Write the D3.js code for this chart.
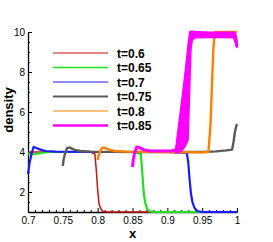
<!DOCTYPE html>
<html>
<head>
<meta charset="utf-8">
<script src="https://cdn.jsdelivr.net/npm/d3@7"></script>
<style>
  body { margin: 0; background: #fff; }
  text { font-family: "Liberation Sans", Arial, sans-serif; }
</style>
</head>
<body>
<div id="wrapper"></div>
<script>
// density profiles, values
const seriesNames = ["t=0.6", "t=0.65", "t=0.7", "t=0.75", "t=0.8", "t=0.85"];

const xRed = [0.70, 0.72, 0.75, 0.78, 0.79, 0.796, 0.798, 0.800, 0.802, 0.805, 0.808, 0.815, 0.85, 0.9, 1.0];
const dRed = [4.0, 4.0, 4.0, 4.0, 4.0, 3.9, 3.1, 2.1, 1.4, 1.12, 1.03, 1.0, 1.0, 1.0, 1.0];

const xGreen = [0.70, 0.705, 0.71, 0.72, 0.73, 0.75, 0.8, 0.85, 0.862, 0.864, 0.866, 0.868, 0.871, 0.875, 0.88, 0.95, 1.0];
const dGreen = [3.92, 3.88, 3.9, 3.95, 4.0, 4.0, 4.0, 4.0, 3.9, 3.0, 2.0, 1.5, 1.15, 1.03, 1.0, 1.0, 1.0];

const xBlue = [0.700, 0.702, 0.705, 0.708, 0.712, 0.718, 0.725, 0.74, 0.8, 0.9, 0.928, 0.930, 0.932, 0.934, 0.936, 0.939, 0.943, 0.95, 1.0];
const dBlue = [2.9, 3.4, 3.9, 4.25, 4.2, 4.12, 4.05, 4.02, 4.0, 4.0, 3.95, 3.5, 2.6, 1.9, 1.5, 1.2, 1.05, 1.0, 1.0];

const xGray = [0.750, 0.751, 0.753, 0.756, 0.760, 0.766, 0.775, 0.79, 0.85, 0.9, 0.95, 0.97, 0.985, 0.993, 0.995, 0.997, 0.999, 1.0];
const dGray = [3.3, 3.6, 3.9, 4.2, 4.22, 4.12, 4.05, 4.02, 4.0, 4.0, 4.0, 4.03, 4.08, 4.12, 4.5, 5.0, 5.3, 5.4];

const xOrange = [0.800, 0.801, 0.803, 0.806, 0.810, 0.816, 0.825, 0.84, 0.9, 0.95, 0.959, 0.962, 0.964, 0.966, 0.968, 0.975, 1.0];
const dOrange = [3.6, 3.8, 4.0, 4.2, 4.22, 4.12, 4.05, 4.02, 4.0, 3.98, 4.0, 5.4, 7.3, 9.1, 10.0, 10.0, 10.0];

const xMagenta = [0.850, 0.851, 0.853, 0.856, 0.860, 0.866, 0.875, 0.89, 0.905, 0.912,
  0.916, 0.920, 0.924, 0.928, 0.931, 0.933, 0.936, 0.95, 0.97, 0.99, 0.997, 0.999, 1.0];
const dMagenta = [3.25, 3.6, 3.95, 4.25, 4.22, 4.12, 4.05, 4.05, 4.05, 4.1,
  4.5, 5.3, 6.3, 7.4, 8.5, 9.6, 9.85, 9.87, 9.85, 9.86, 9.8, 9.5, 9.25];

// oscillation band of t=0.85 around the reflected shock (lower / upper edge)
const xMagentaBand = [0.912, 0.914, 0.918, 0.922, 0.926, 0.930, 0.932, 0.934, 0.936, 0.940, 0.96, 0.98, 0.995, 0.998, 1.0];
const loMagenta = [3.95, 3.95, 4.0, 4.1, 4.3, 4.6, 6.8, 9.1, 9.6, 9.7, 9.72, 9.72, 9.7, 9.4, 9.2];
const hiMagenta = [4.15, 4.8, 5.9, 7.0, 8.2, 9.5, 10.02, 10.05, 10.05, 10.03, 10.0, 10.0, 10.0, 9.95, 9.6];

const xTicks = [0.7, 0.75, 0.8, 0.85, 0.9, 0.95, 1];
const xTickLabels = ["0.7", "0.75", "0.8", "0.85", "0.9", "0.95", "1"];
const yTicks = [2, 4, 6, 8, 10];

function drawChart() {
  const colors = ["#d01010", "#1ee01e", "#1a1aff", "#5c5c5c", "#ff8000", "#ff00ff"];
  const widths = [1.5, 2.2, 2.2, 2.4, 2.4, 3];
  const legendWidths = [1, 1.6, 1, 1.8, 1, 2.4];

  const series = [
    [xRed, dRed], [xGreen, dGreen], [xBlue, dBlue],
    [xGray, dGray], [xOrange, dOrange], [xMagenta, dMagenta],
  ].map(([xs, ds], i) => ({
    name: seriesNames[i],
    points: xs.map((x, j) => ({ x: x, d: ds[j] })),
  }));
  const band = xMagentaBand.map((x, j) => ({ x: x, lo: loMagenta[j], hi: hiMagenta[j] }));

  const xAccessor = (p) => p.x;
  const yAccessor = (p) => p.d;

  let dimensions = {
    width: 273,
    height: 242,
    margin: { top: 32, right: 36, bottom: 30, left: 28 },
  };
  dimensions.boundedWidth = dimensions.width - dimensions.margin.left - dimensions.margin.right;
  dimensions.boundedHeight = dimensions.height - dimensions.margin.top - dimensions.margin.bottom;

  const wrapper = d3.select("#wrapper")
    .append("svg")
    .attr("width", dimensions.width)
    .attr("height", dimensions.height);

  const bounds = wrapper.append("g")
    .attr("transform", `translate(${dimensions.margin.left},${dimensions.margin.top})`);

  const xScale = d3.scaleLinear().domain([0.7, 1.0]).range([0, dimensions.boundedWidth]);
  const yScale = d3.scaleLinear().domain([1, 10]).range([dimensions.boundedHeight, 0]);

  // minor ticks first, ticks point into the plot
  const xMinor = d3.range(70, 101).map((v) => v / 100).filter((v) => Math.round(v * 100) % 5 !== 0);
  const yMinor = d3.range(2, 21).map((v) => v / 2).filter((v) => v % 2 !== 0);

  bounds.append("g")
    .attr("transform", `translate(0,${dimensions.boundedHeight})`)
    .call(d3.axisBottom(xScale).tickValues(xMinor).tickSize(-2).tickFormat(""))
    .call((g) => g.select(".domain").remove());
  bounds.append("g")
    .call(d3.axisLeft(yScale).tickValues(yMinor).tickSize(-2).tickFormat(""))
    .call((g) => g.select(".domain").remove());

  const xAxis = bounds.append("g")
    .attr("transform", `translate(0,${dimensions.boundedHeight})`)
    .call(d3.axisBottom(xScale)
      .tickValues(xTicks)
      .tickSize(-4)
      .tickSizeOuter(0)
      .tickPadding(5)
      .tickFormat((d, i) => xTickLabels[i]));
  xAxis.selectAll("text").attr("font-size", 10).attr("font-family", "Liberation Sans, Arial, sans-serif").attr("fill", "#000");

  const yAxis = bounds.append("g")
    .call(d3.axisLeft(yScale)
      .tickValues(yTicks)
      .tickSize(-4)
      .tickSizeOuter(0)
      .tickPadding(3));
  yAxis.selectAll("text").attr("font-size", 10).attr("font-family", "Liberation Sans, Arial, sans-serif").attr("fill", "#000");

  bounds.selectAll(".domain").attr("stroke-width", 1.3);

  // curves
  const lineGenerator = d3.line()
    .x((p) => xScale(xAccessor(p)))
    .y((p) => yScale(yAccessor(p)));

  bounds.selectAll(".curve")
    .data(series)
    .join("path")
    .attr("class", "curve")
    .attr("d", (s) => lineGenerator(s.points))
    .attr("fill", "none")
    .attr("stroke", (s, i) => colors[i])
    .attr("stroke-width", (s, i) => widths[i])
    .attr("stroke-linejoin", "round");

  // noisy band of the last profile
  const areaGenerator = d3.area()
    .x((p) => xScale(p.x))
    .y0((p) => yScale(p.lo))
    .y1((p) => yScale(p.hi));
  bounds.append("path")
    .attr("d", areaGenerator(band))
    .attr("fill", colors[5])
    .attr("stroke", colors[5])
    .attr("stroke-width", 1.2);

  // legend
  const legend = wrapper.append("g");
  const rows = legend.selectAll("g")
    .data(series)
    .join("g")
    .attr("transform", (s, i) => `translate(53,${53 + i * 14.5})`);
  rows.append("line")
    .attr("x1", 0).attr("x2", 55)
    .attr("stroke", (s, i) => colors[i])
    .attr("stroke-width", (s, i) => legendWidths[i]);
  rows.append("text")
    .attr("x", 64).attr("y", 4.5)
    .attr("font-size", 12).attr("font-weight", "bold")
    .text((s) => s.name);

  // axis titles
  wrapper.append("text")
    .attr("x", dimensions.margin.left + xScale(0.85))
    .attr("y", 238)
    .attr("text-anchor", "middle")
    .attr("font-size", 13).attr("font-weight", "bold")
    .text("x");
  wrapper.append("text")
    .attr("transform", `translate(13,${110}) rotate(-90)`)
    .attr("text-anchor", "middle")
    .attr("font-size", 13).attr("font-weight", "bold")
    .text("density");
}
drawChart();
</script>
</body>
</html>
